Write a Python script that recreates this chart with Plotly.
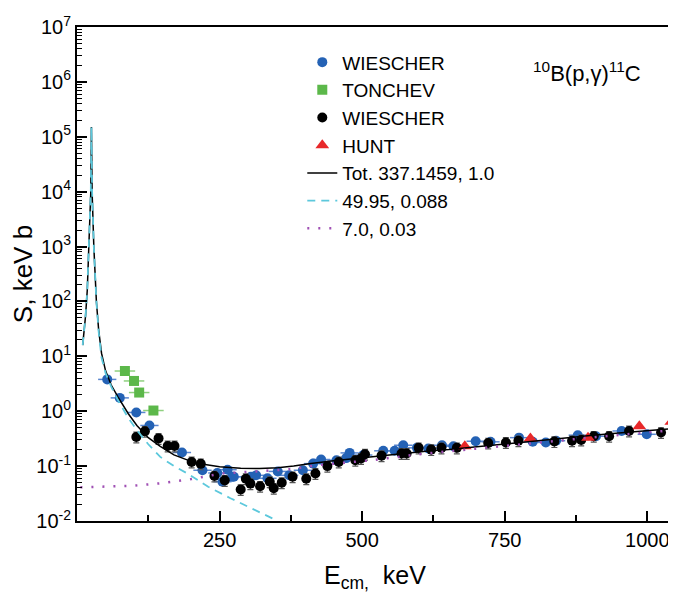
import plotly.graph_objects as go

# dados (E em keV, S em keV b)
wb_e = [53, 75, 104, 127, 184, 220, 246, 255, 264, 272, 275, 305, 314, 334, 352, 372, 396,
        414, 428, 455, 472, 478, 502, 537, 557, 572, 596, 616, 640, 660, 699, 725, 775, 799,
        822, 840, 878, 910, 955, 999]
wb_s = [3.8, 1.75, 0.95, 0.55, 0.177, 0.084, 0.075, 0.052, 0.086, 0.064, 0.064, 0.064, 0.068,
        0.06, 0.08, 0.068, 0.084, 0.111, 0.132, 0.128, 0.14, 0.174, 0.159, 0.19, 0.19, 0.24,
        0.215, 0.21, 0.24, 0.23, 0.284, 0.277, 0.33, 0.277, 0.27, 0.29, 0.366, 0.35, 0.437, 0.38]

ton_e = [84, 100, 109, 134]
ton_s = [5.4, 3.56, 2.19, 1.03]

wk_e = [104, 119, 143, 159, 171, 201, 217, 241, 259, 287, 296, 304, 321, 338, 345, 359, 378,
        402, 418, 439, 459, 488, 498, 505, 534, 569, 578, 599, 621, 639, 666, 721, 752, 774,
        837, 868, 884, 906, 933, 968, 1024]
wk_s = [0.34, 0.43, 0.32, 0.233, 0.233, 0.119, 0.11, 0.066, 0.055, 0.0375, 0.059, 0.048, 0.043,
        0.052, 0.0395, 0.05, 0.064, 0.059, 0.0735, 0.1, 0.119, 0.128, 0.138, 0.165, 0.155, 0.17,
        0.17, 0.215, 0.2, 0.215, 0.215, 0.264, 0.27, 0.29, 0.28, 0.29, 0.3, 0.35, 0.35, 0.437, 0.41]

hunt_e = [680, 795, 896, 986, 1042]
hunt_s = [0.23, 0.32, 0.33, 0.53, 0.64]

# curvas
tot_e = [10, 15, 18, 21, 24.2, 25.3, 26.5, 29.5, 34, 38, 43, 50, 60, 72, 90, 105, 125, 146,
         170, 193, 216, 250, 287, 320, 352, 380, 410, 450, 487, 534, 570, 620, 652, 700, 750,
         800, 852, 900, 950, 1000, 1045]
tot_s = [16, 55, 160, 1000, 1e4, 1.5e5, 1e4, 1000, 100, 30, 11.4, 5.5, 3.0, 1.8, 0.9, 0.55,
         0.33, 0.23, 0.16, 0.13, 0.11, 0.097, 0.091, 0.09, 0.093, 0.1, 0.112, 0.125, 0.137,
         0.152, 0.17, 0.19, 0.2, 0.225, 0.25, 0.28, 0.32, 0.36, 0.4, 0.44, 0.48]

res_e = [10, 15, 18, 21, 24.2, 25.3, 26.5, 29.5, 34, 38, 43, 50, 60, 72, 90, 105, 125, 146,
         170, 193, 230, 269, 310, 352]
res_s = [16, 55, 160, 1000, 1e4, 1.5e5, 1e4, 1000, 100, 28, 9.5, 5.0, 2.8, 1.58, 0.75, 0.45,
         0.25, 0.147, 0.1, 0.074, 0.042, 0.026, 0.016, 0.01]

nr_e = [6, 50, 100, 150, 200, 252, 300, 375, 422, 516, 600, 700, 800, 900, 1000, 1045]
nr_s = [0.041, 0.042, 0.044, 0.049, 0.058, 0.073, 0.079, 0.088, 0.104, 0.128, 0.165, 0.21,
        0.26, 0.33, 0.41, 0.45]

fonte = "Liberation Sans, Arial"

fig = go.Figure()

fig.add_trace(go.Scatter(
    x=wb_e, y=wb_s, mode="markers", name="WIESCHER",
    marker=dict(color="#2462b5", size=10, symbol="circle"),
    error_x=dict(type="constant", value=16, color="#5a86cf", thickness=1.5, width=0)
))
fig.add_trace(go.Scatter(
    x=ton_e, y=ton_s, mode="markers", name="TONCHEV",
    marker=dict(color="#5cb84a", size=10, symbol="square"),
    error_x=dict(type="constant", value=18, color="#8fd07f", thickness=1.5, width=0)
))
fig.add_trace(go.Scatter(
    x=wk_e, y=wk_s, mode="markers", name="WIESCHER",
    marker=dict(color="black", size=10, symbol="circle"),
    error_y=dict(type="percent", value=22, color="#555555", thickness=1.2, width=3)
))
fig.add_trace(go.Scatter(
    x=hunt_e, y=hunt_s, mode="markers", name="HUNT",
    marker=dict(color="#e8282a", size=12, symbol="triangle-up"),
    error_y=dict(type="percent", value=10, color="#e8282a", thickness=1.2, width=0)
))
fig.add_trace(go.Scatter(
    x=tot_e, y=tot_s, mode="lines", name="Tot. 337.1459, 1.0",
    line=dict(color="black", width=1.5)
))
fig.add_trace(go.Scatter(
    x=res_e, y=res_s, mode="lines", name="49.95, 0.088",
    line=dict(color="#5cc8dc", width=1.8, dash="8px,6px")
))
fig.add_trace(go.Scatter(
    x=nr_e, y=nr_s, mode="lines", name="7.0, 0.03",
    line=dict(color="#a050b4", width=2.5, dash="2px,9px")
))

# rótulos do eixo y
y_vals = [1e-2, 1e-1, 1, 10, 100, 1e3, 1e4, 1e5, 1e6, 1e7]
y_text = ["10<sup>-2</sup>", "10<sup>-1</sup>", "10<sup>0</sup>", "10<sup>1</sup>",
          "10<sup>2</sup>", "10<sup>3</sup>", "10<sup>4</sup>", "10<sup>5</sup>",
          "10<sup>6</sup>", "10<sup>7</sup>"]
y_minor = [m * d for d in y_vals[:-1] for m in range(2, 10)]

# a página tem margem de 8px no body, por isso a figura é um pouco menor
fig.update_layout(
    width=668, height=592,
    margin=dict(l=69, r=3, t=19, b=79),
    plot_bgcolor="white", paper_bgcolor="white",
    font=dict(family=fonte, color="black", size=19),
    showlegend=True,
    legend=dict(x=0.378, y=0.967, xanchor="left", yanchor="top",
                bgcolor="rgba(0,0,0,0)", font=dict(size=19), tracegroupgap=0),
    xaxis=dict(
        range=[0, 1045], showline=True, linecolor="black", linewidth=2, mirror=True,
        showgrid=False, zeroline=False, automargin=False,
        tickvals=[250, 500, 750, 1000], ticks="inside", ticklen=10, tickwidth=2,
        tickcolor="black", tickfont=dict(size=20),
        minor=dict(tickvals=[125, 375, 625, 875], ticks="inside", ticklen=6,
                   tickwidth=1.5, tickcolor="black", showgrid=False),
        title=dict(text="E<sub>cm,</sub>  keV", font=dict(size=25), standoff=16),
    ),
    yaxis=dict(
        type="log", range=[-2, 7], showline=True, linecolor="black", linewidth=2,
        mirror=True, showgrid=False, zeroline=False, automargin=False,
        tickvals=y_vals, ticktext=y_text, ticks="inside", ticklen=10, tickwidth=2,
        tickcolor="black", tickfont=dict(size=20),
        minor=dict(tickvals=y_minor, ticks="inside", ticklen=5, tickwidth=1.2,
                   tickcolor="black", showgrid=False),
        title=dict(text="S, keV b", font=dict(size=26), standoff=0),
    ),
)

fig.add_annotation(
    x=0.855, y=0.909, xref="paper", yref="paper", showarrow=False,
    xanchor="center", yanchor="middle",
    text="<sup>10</sup>B(p,γ)<sup>11</sup>C", font=dict(size=22)
)

fig.write_html("out.html")
